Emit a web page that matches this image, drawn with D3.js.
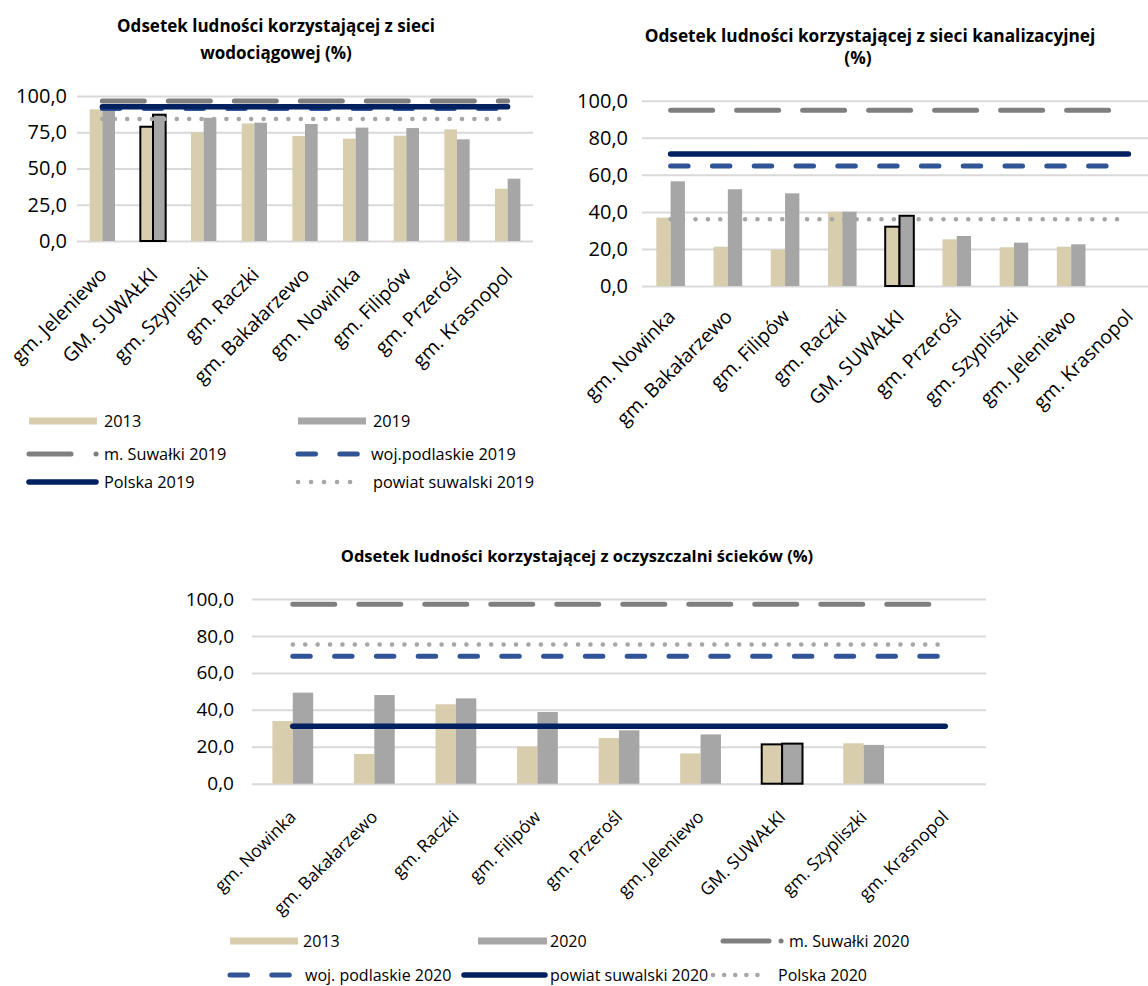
<!DOCTYPE html>
<html lang="pl">
<head>
<meta charset="utf-8">
<script src="https://cdn.jsdelivr.net/npm/d3@7"></script>
<style>
  body { margin: 0; background: #fff; }
  svg { display: block; font-family: "Open Sans", sans-serif; }
</style>
</head>
<body>
<svg id="chart" width="1148" height="986"></svg>
<script>
// --- sieć wodociągowa ---
const wodaGminy = ['gm. Jeleniewo', 'GM. SUWAŁKI', 'gm. Szypliszki', 'gm. Raczki', 'gm. Bakałarzewo',
    'gm. Nowinka', 'gm. Filipów', 'gm. Przerośl', 'gm. Krasnopol'];
const woda2013 = [90.8, 78.8, 75.0, 81.1, 72.4, 70.6, 72.6, 77.0, 36.1];
const woda2019 = [91.6, 87.1, 85.0, 81.6, 80.7, 78.2, 77.9, 70.1, 43.0];
const wodaTicks = [0, 25, 50, 75, 100];
// m. Suwałki, woj. podlaskie, Polska, powiat suwalski (2019)
const wodaPoziomy = [96.6, 91.4, 92.6, 84.1];

// --- sieć kanalizacyjna ---
const kanGminy = ['gm. Nowinka', 'gm. Bakałarzewo', 'gm. Filipów', 'gm. Raczki', 'GM. SUWAŁKI',
    'gm. Przerośl', 'gm. Szypliszki', 'gm. Jeleniewo', 'gm. Krasnopol'];
const kan2013 = [36.9, 21.2, 19.6, 40.0, 32.0, 25.2, 20.9, 21.2, null];
const kan2019 = [56.5, 52.2, 50.0, 40.1, 37.9, 27.0, 23.4, 22.5, null];
const kanTicks = [0, 20, 40, 60, 80, 100];
// m. Suwałki, woj. podlaskie, Polska, powiat suwalski (2019)
const kanPoziomy = [94.8, 64.8, 71.2, 36.0];

// --- oczyszczalnie ścieków ---
const oczGminy = ['gm. Nowinka', 'gm. Bakałarzewo', 'gm. Raczki', 'gm. Filipów', 'gm. Przerośl',
    'gm. Jeleniewo', 'GM. SUWAŁKI', 'gm. Szypliszki', 'gm. Krasnopol'];
const ocz2013 = [33.9, 16.1, 43.0, 20.2, 24.7, 16.4, 21.3, 21.9, null];
const ocz2020 = [49.3, 48.0, 46.2, 38.8, 28.9, 26.7, 21.7, 21.0, null];
const oczTicks = [0, 20, 40, 60, 80, 100];
// m. Suwałki, woj. podlaskie, powiat suwalski, Polska (2020)
const oczPoziomy = [97.1, 69.0, 31.1, 75.3];

const colors = {
    y2013: '#d8ceae',
    y2019: '#a6a6a6',
    grid: '#d9d9d9'
};

const lineStyles = {
    suwalki: {color: '#7f7f7f', width: 5, dash: '42 24'},
    woj: {color: '#2f5597', width: 5, dash: '17.5 24.3'},
    granat: {color: '#002060', width: 5.5, dash: null},
    kropki: {color: '#a6a6a6', width: 4.5, dash: '0.1 12.3'}
};

const fmt = d3.formatLocale({decimal: ',', thousands: ' ', grouping: [3], currency: ['', ' zł']}).format('.1f');
const svg = d3.select('#chart');

function barChart(opts) {
    const g = svg.append('g');

    const x = d3.scaleBand()
        .domain(opts.categories)
        .range(opts.xRange)
        .paddingInner(0.5)
        .paddingOuter(0.25);
    const xs = d3.scaleBand()
        .domain([0, 1])
        .range([0, x.bandwidth()]);
    const y = d3.scaleLinear()
        .domain([0, 100])
        .range(opts.yRange);

    const x0 = opts.xRange[0];
    const x1 = opts.xRange[1];

    // grid + y labels
    const yAxis = d3.axisLeft(y)
        .tickValues(opts.ticks)
        .tickSize(-(x1 - x0))
        .tickPadding(opts.tickPadding)
        .tickFormat(fmt);
    g.append('g')
        .attr('transform', `translate(${x0},0)`)
        .call(yAxis)
        .call(s => s.select('.domain').remove())
        .call(s => s.selectAll('line').attr('stroke', colors.grid).attr('stroke-width', 2))
        .call(s => s.selectAll('text')
            .attr('fill', '#000')
            .style('font-size', opts.tickFont + 'px')
            .style('font-family', '"Open Sans", sans-serif'));

    // bars
    const series = [opts.a, opts.b];
    const barColors = [colors.y2013, colors.y2019];
    const bars = [];
    opts.categories.forEach((c, i) => {
        series.forEach((s, j) => {
            if (s[i] != null) bars.push({cat: c, k: j, v: s[i]});
        });
    });
    g.append('g')
        .selectAll('rect')
        .data(bars)
        .join('rect')
            .attr('x', d => x(d.cat) + xs(d.k))
            .attr('y', d => y(d.v))
            .attr('width', xs.bandwidth())
            .attr('height', d => y(0) - y(d.v))
            .attr('fill', d => barColors[d.k])
            .attr('stroke', d => d.cat === 'GM. SUWAŁKI' ? '#000' : 'none')
            .attr('stroke-width', 2);

    // reference lines
    const cx0 = x(opts.categories[0]) + x.bandwidth() / 2;
    const cx1 = x(opts.categories[opts.categories.length - 1]) + x.bandwidth() / 2;
    g.append('g')
        .selectAll('line')
        .data(opts.levels.map((v, i) => ({v, st: lineStyles[opts.levelStyles[i]]})))
        .join('line')
            .attr('x1', cx0)
            .attr('x2', cx1)
            .attr('y1', d => y(d.v))
            .attr('y2', d => y(d.v))
            .attr('stroke', d => d.st.color)
            .attr('stroke-width', d => d.st.width)
            .attr('stroke-linecap', 'round')
            .attr('stroke-dasharray', d => d.st.dash);

    // x labels
    g.append('g')
        .selectAll('text')
        .data(opts.categories)
        .join('text')
            .attr('transform', d => `translate(${x(d) + x.bandwidth() / 2 + opts.labelDx},${y(0) + opts.labelDy}) rotate(-45)`)
            .attr('text-anchor', 'end')
            .attr('dy', '0.35em')
            .style('font-size', opts.labelFont + 'px')
            .text(d => d);

    // title
    g.append('g')
        .selectAll('text')
        .data(opts.title)
        .join('text')
            .attr('x', d => d.x)
            .attr('y', d => d.y)
            .attr('text-anchor', 'middle')
            .attr('dominant-baseline', 'central')
            .style('font-size', opts.titleFont + 'px')
            .style('font-weight', 700)
            .text(d => d.t);
}

function legend(items, fontSize) {
    const g = svg.append('g');
    items.forEach(it => {
        if (it.type === 'rect') {
            g.append('rect')
                .attr('x', it.sx[0])
                .attr('y', it.y - 3.5)
                .attr('width', it.sx[1] - it.sx[0])
                .attr('height', 7)
                .attr('fill', it.color);
        } else {
            const st = lineStyles[it.type];
            g.append('line')
                .attr('x1', it.sx[0])
                .attr('x2', it.sx[1])
                .attr('y1', it.y)
                .attr('y2', it.y)
                .attr('stroke', st.color)
                .attr('stroke-width', st.width)
                .attr('stroke-linecap', 'round')
                .attr('stroke-dasharray', it.dash || st.dash);
        }
        g.append('text')
            .attr('x', it.tx)
            .attr('y', it.y)
            .attr('dominant-baseline', 'central')
            .style('font-size', fontSize + 'px')
            .text(it.label);
    });
}

barChart({
    categories: wodaGminy, a: woda2013, b: woda2019, ticks: wodaTicks,
    levels: wodaPoziomy, levelStyles: ['suwalki', 'woj', 'granat', 'kropki'],
    xRange: [77, 533], yRange: [241, 96], tickPadding: 10, tickFont: 20,
    labelFont: 19.5, labelDx: 1, labelDy: 30, titleFont: 17,
    title: [
        {t: 'Odsetek ludności korzystającej z sieci', x: 276, y: 25},
        {t: 'wodociągowej (%)', x: 276, y: 52}
    ]
});

barChart({
    categories: kanGminy, a: kan2013, b: kan2019, ticks: kanTicks,
    levels: kanPoziomy, levelStyles: ['suwalki', 'woj', 'granat', 'kropki'],
    xRange: [642, 1157], yRange: [286, 100.7], tickPadding: 14, tickFont: 20,
    labelFont: 19.5, labelDx: 1, labelDy: 27, titleFont: 17.3,
    title: [
        {t: 'Odsetek ludności korzystającej z sieci kanalizacyjnej', x: 870, y: 35},
        {t: '(%)', x: 858, y: 57}
    ]
});

barChart({
    categories: oczGminy, a: ocz2013, b: ocz2020, ticks: oczTicks,
    levels: oczPoziomy, levelStyles: ['suwalki', 'woj', 'granat', 'kropki'],
    xRange: [252, 986], yRange: [783.7, 599], tickPadding: 18, tickFont: 19,
    labelFont: 17.5, labelDx: 0, labelDy: 30, titleFont: 16.5,
    title: [
        {t: 'Odsetek ludności korzystającej z oczyszczalni ścieków (%)', x: 577, y: 555}
    ]
});

legend([
    {type: 'rect', color: colors.y2013, sx: [29, 97], tx: 104, y: 421, label: '2013'},
    {type: 'rect', color: colors.y2019, sx: [298, 366], tx: 373, y: 421, label: '2019'},
    {type: 'suwalki', sx: [29, 97], dash: '42 25 0.1 100', tx: 104, y: 454, label: 'm. Suwałki 2019'},
    {type: 'woj', sx: [298, 362], tx: 371, y: 454, label: 'woj.podlaskie 2019'},
    {type: 'granat', sx: [29, 96], tx: 104, y: 482, label: 'Polska 2019'},
    {type: 'kropki', sx: [298, 361], dash: '0.1 12.9', tx: 373, y: 482, label: 'powiat suwalski 2019'}
], 16.3);

legend([
    {type: 'rect', color: colors.y2013, sx: [230, 298], tx: 303, y: 941, label: '2013'},
    {type: 'rect', color: colors.y2019, sx: [478, 547], tx: 550, y: 941, label: '2020'},
    {type: 'suwalki', sx: [723, 782], dash: '46 12 0.1 100', tx: 789, y: 941, label: 'm. Suwałki 2020'},
    {type: 'woj', sx: [230, 292], tx: 305, y: 975, label: 'woj. podlaskie 2020'},
    {type: 'granat', sx: [464, 545], tx: 550, y: 975, label: 'powiat suwalski 2020'},
    {type: 'kropki', sx: [713, 768], dash: '0.1 11', tx: 778, y: 975, label: 'Polska 2020'}
], 16);
</script>
</body>
</html>
